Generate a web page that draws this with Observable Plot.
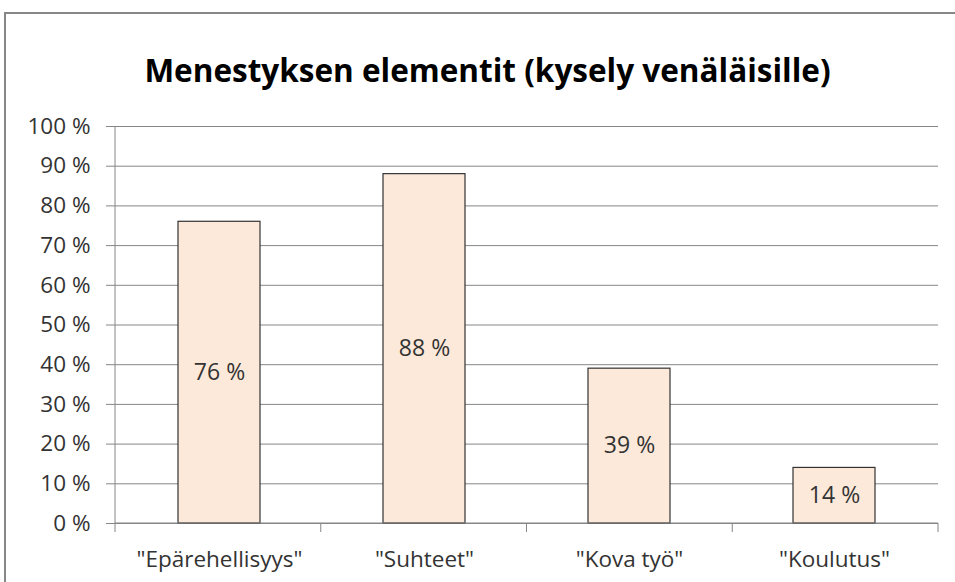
<!DOCTYPE html>
<html><head><meta charset="utf-8">
<script src="https://cdn.jsdelivr.net/npm/d3@7"></script>
<script src="https://cdn.jsdelivr.net/npm/@observablehq/plot@0.6"></script>
<style>
body{margin:0;overflow:hidden;background:#fff}
#wrap{position:relative;width:955px;height:582px;overflow:hidden;font-family:"Open Sans",sans-serif}
#border{position:absolute;left:4px;top:12px;width:990px;height:620px;border:2px solid #878787;box-sizing:border-box}
#title{position:absolute;left:10px;width:955px;top:50px;text-align:center;font-weight:bold;font-size:31.5px;color:#000;line-height:40px;white-space:nowrap}
#chart{position:absolute;left:0;top:0}
</style></head><body>
<div id="wrap"><div id="border"></div><div id="title">Menestyksen elementit (kysely venäläisille)</div><div id="chart"></div></div>
<script>
const categories = ['"Epärehellisyys"', '"Suhteet"', '"Kova työ"', '"Koulutus"'];
const values = [76, 88, 39, 14];
const yTicks = [0, 10, 20, 30, 40, 50, 60, 70, 80, 90, 100];
const data = categories.map((c, i) => ({category: c, value: values[i]}));

const gray = "#868686";
const textColor = "#333333";

const axisLines = (index, scales, vals, dims) => {
  const g = d3.create("svg:g").attr("stroke", gray).attr("stroke-width", 1);
  const x0 = dims.marginLeft, x1 = dims.width - dims.marginRight;
  const yb = dims.height - dims.marginBottom, yt = dims.marginTop;
  const n = categories.length;
  g.append("line").attr("x1", x0).attr("x2", x1).attr("y1", yb).attr("y2", yb);
  g.append("line").attr("x1", x0).attr("x2", x0).attr("y1", yt).attr("y2", yb);
  for (let i = 0; i <= n; i++) {
    const x = x0 + (x1 - x0) * i / n;
    g.append("line").attr("x1", x).attr("x2", x).attr("y1", yb).attr("y2", yb + 9);
  }
  return g.node();
};

const chart = Plot.plot({
  width: 955,
  height: 582,
  marginLeft: 115,
  marginRight: 17,
  marginTop: 126,
  marginBottom: 59,
  style: {fontFamily: '"Open Sans", sans-serif', fontSize: "23px", color: textColor, background: "transparent", overflow: "visible"},
  x: {domain: categories, paddingInner: 0.6, paddingOuter: 0.3, label: null},
  y: {domain: [0, 100], label: null},
  marks: [
    Plot.gridY(yTicks, {stroke: gray, strokeOpacity: 1, strokeWidth: 1}),
    Plot.axisY(yTicks, {tickSize: 9, tickPadding: 16, tickFormat: d => d + " %", stroke: gray, strokeOpacity: 1, fill: textColor, fontSize: 22.5, label: null}),
    Plot.axisX({tickSize: 0, tickPadding: 28, fill: textColor, fontSize: 22.5, label: null}),
    Plot.barY(data, {x: "category", y: "value", fill: "#fde9d9", stroke: "#333333", strokeWidth: 1.2}),
    axisLines,
    Plot.text(data, {x: "category", y: d => d.value / 2, text: d => d.value + " %", fill: textColor, fontSize: 23})
  ]
});
document.getElementById("chart").appendChild(chart);
</script>
</body></html>
